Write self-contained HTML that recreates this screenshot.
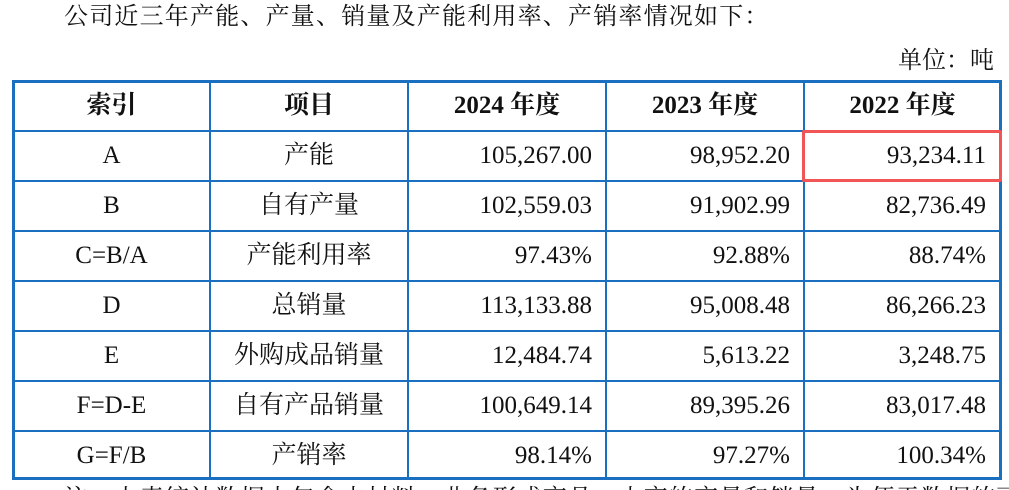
<!DOCTYPE html>
<html><head><meta charset="utf-8"><style>
html,body{margin:0;padding:0;background:#fff;width:1009px;height:490px;overflow:hidden;position:relative}
body{font-family:"Liberation Serif","Noto Serif CJK SC","Noto Sans CJK SC",serif;color:#111}
.t{position:absolute;white-space:nowrap}
.h{position:absolute;background:#1a6fc0}
.c{position:absolute;height:50px;line-height:50px;font-size:25px;white-space:nowrap}
.b{font-weight:bold}
</style></head><body>
<div class="t" style="left:64px;top:2px;font-size:24px;letter-spacing:1.2px;line-height:30px">公司近三年产能、产量、销量及产能利用率、产销率情况如下：</div>
<div class="t" style="left:898px;top:46px;font-size:24px;line-height:30px">单位：吨</div>
<!-- lines -->
<div class="h" style="left:12px;top:80px;width:990px;height:3px"></div>
<div class="h" style="left:12px;top:477px;width:990px;height:3px"></div>
<div class="h" style="left:12px;top:80px;width:3px;height:400px"></div>
<div class="h" style="left:999px;top:80px;width:3px;height:400px"></div>
<div class="h" style="left:209px;top:80px;width:2px;height:400px"></div>
<div class="h" style="left:407px;top:80px;width:2px;height:400px"></div>
<div class="h" style="left:605px;top:80px;width:2px;height:400px"></div>
<div class="h" style="left:803px;top:80px;width:2px;height:400px"></div>
<div class="h" style="left:12px;top:130px;width:990px;height:2px"></div>
<div class="h" style="left:12px;top:180px;width:990px;height:2px"></div>
<div class="h" style="left:12px;top:230px;width:990px;height:2px"></div>
<div class="h" style="left:12px;top:280px;width:990px;height:2px"></div>
<div class="h" style="left:12px;top:330px;width:990px;height:2px"></div>
<div class="h" style="left:12px;top:380px;width:990px;height:2px"></div>
<div class="h" style="left:12px;top:430px;width:990px;height:2px"></div>
<div style="position:absolute;left:802px;top:130px;width:194px;height:46px;border:3px solid #f25555;border-radius:2px"></div>
<!-- header -->
<div class="c b" style="left:13px;width:197px;top:81px;text-align:center">索引</div>
<div class="c b" style="left:210px;width:198px;top:81px;text-align:center">项目</div>
<div class="c b" style="left:408px;width:198px;top:81px;text-align:center">2024 年度</div>
<div class="c b" style="left:606px;width:198px;top:81px;text-align:center">2023 年度</div>
<div class="c b" style="left:804px;width:197px;top:81px;text-align:center">2022 年度</div>
<!-- rows -->
<div class="c" style="left:13px;width:197px;top:131px;text-align:center">A</div>
<div class="c" style="left:210px;width:198px;top:131px;text-align:center">产能</div>
<div class="c" style="left:408px;width:184px;top:131px;text-align:right">105,267.00</div>
<div class="c" style="left:606px;width:184px;top:131px;text-align:right">98,952.20</div>
<div class="c" style="left:804px;width:182px;top:131px;text-align:right">93,234.11</div>

<div class="c" style="left:13px;width:197px;top:181px;text-align:center">B</div>
<div class="c" style="left:210px;width:198px;top:181px;text-align:center">自有产量</div>
<div class="c" style="left:408px;width:184px;top:181px;text-align:right">102,559.03</div>
<div class="c" style="left:606px;width:184px;top:181px;text-align:right">91,902.99</div>
<div class="c" style="left:804px;width:182px;top:181px;text-align:right">82,736.49</div>

<div class="c" style="left:13px;width:197px;top:231px;text-align:center">C=B/A</div>
<div class="c" style="left:210px;width:198px;top:231px;text-align:center">产能利用率</div>
<div class="c" style="left:408px;width:184px;top:231px;text-align:right">97.43%</div>
<div class="c" style="left:606px;width:184px;top:231px;text-align:right">92.88%</div>
<div class="c" style="left:804px;width:182px;top:231px;text-align:right">88.74%</div>

<div class="c" style="left:13px;width:197px;top:281px;text-align:center">D</div>
<div class="c" style="left:210px;width:198px;top:281px;text-align:center">总销量</div>
<div class="c" style="left:408px;width:184px;top:281px;text-align:right">113,133.88</div>
<div class="c" style="left:606px;width:184px;top:281px;text-align:right">95,008.48</div>
<div class="c" style="left:804px;width:182px;top:281px;text-align:right">86,266.23</div>

<div class="c" style="left:13px;width:197px;top:331px;text-align:center">E</div>
<div class="c" style="left:210px;width:198px;top:331px;text-align:center">外购成品销量</div>
<div class="c" style="left:408px;width:184px;top:331px;text-align:right">12,484.74</div>
<div class="c" style="left:606px;width:184px;top:331px;text-align:right">5,613.22</div>
<div class="c" style="left:804px;width:182px;top:331px;text-align:right">3,248.75</div>

<div class="c" style="left:13px;width:197px;top:381px;text-align:center">F=D-E</div>
<div class="c" style="left:210px;width:198px;top:381px;text-align:center">自有产品销量</div>
<div class="c" style="left:408px;width:184px;top:381px;text-align:right">100,649.14</div>
<div class="c" style="left:606px;width:184px;top:381px;text-align:right">89,395.26</div>
<div class="c" style="left:804px;width:182px;top:381px;text-align:right">83,017.48</div>

<div class="c" style="left:13px;width:197px;top:431px;text-align:center">G=F/B</div>
<div class="c" style="left:210px;width:198px;top:431px;text-align:center">产销率</div>
<div class="c" style="left:408px;width:184px;top:431px;text-align:right">98.14%</div>
<div class="c" style="left:606px;width:184px;top:431px;text-align:right">97.27%</div>
<div class="c" style="left:804px;width:182px;top:431px;text-align:right">100.34%</div>

<div class="t" style="left:64px;top:484px;font-size:24px;line-height:30px;letter-spacing:1.2px">注：上表统计数据中包含本材料，业务形成产品，由产的产量和销量，为便于数据的可</div>
</body></html>
